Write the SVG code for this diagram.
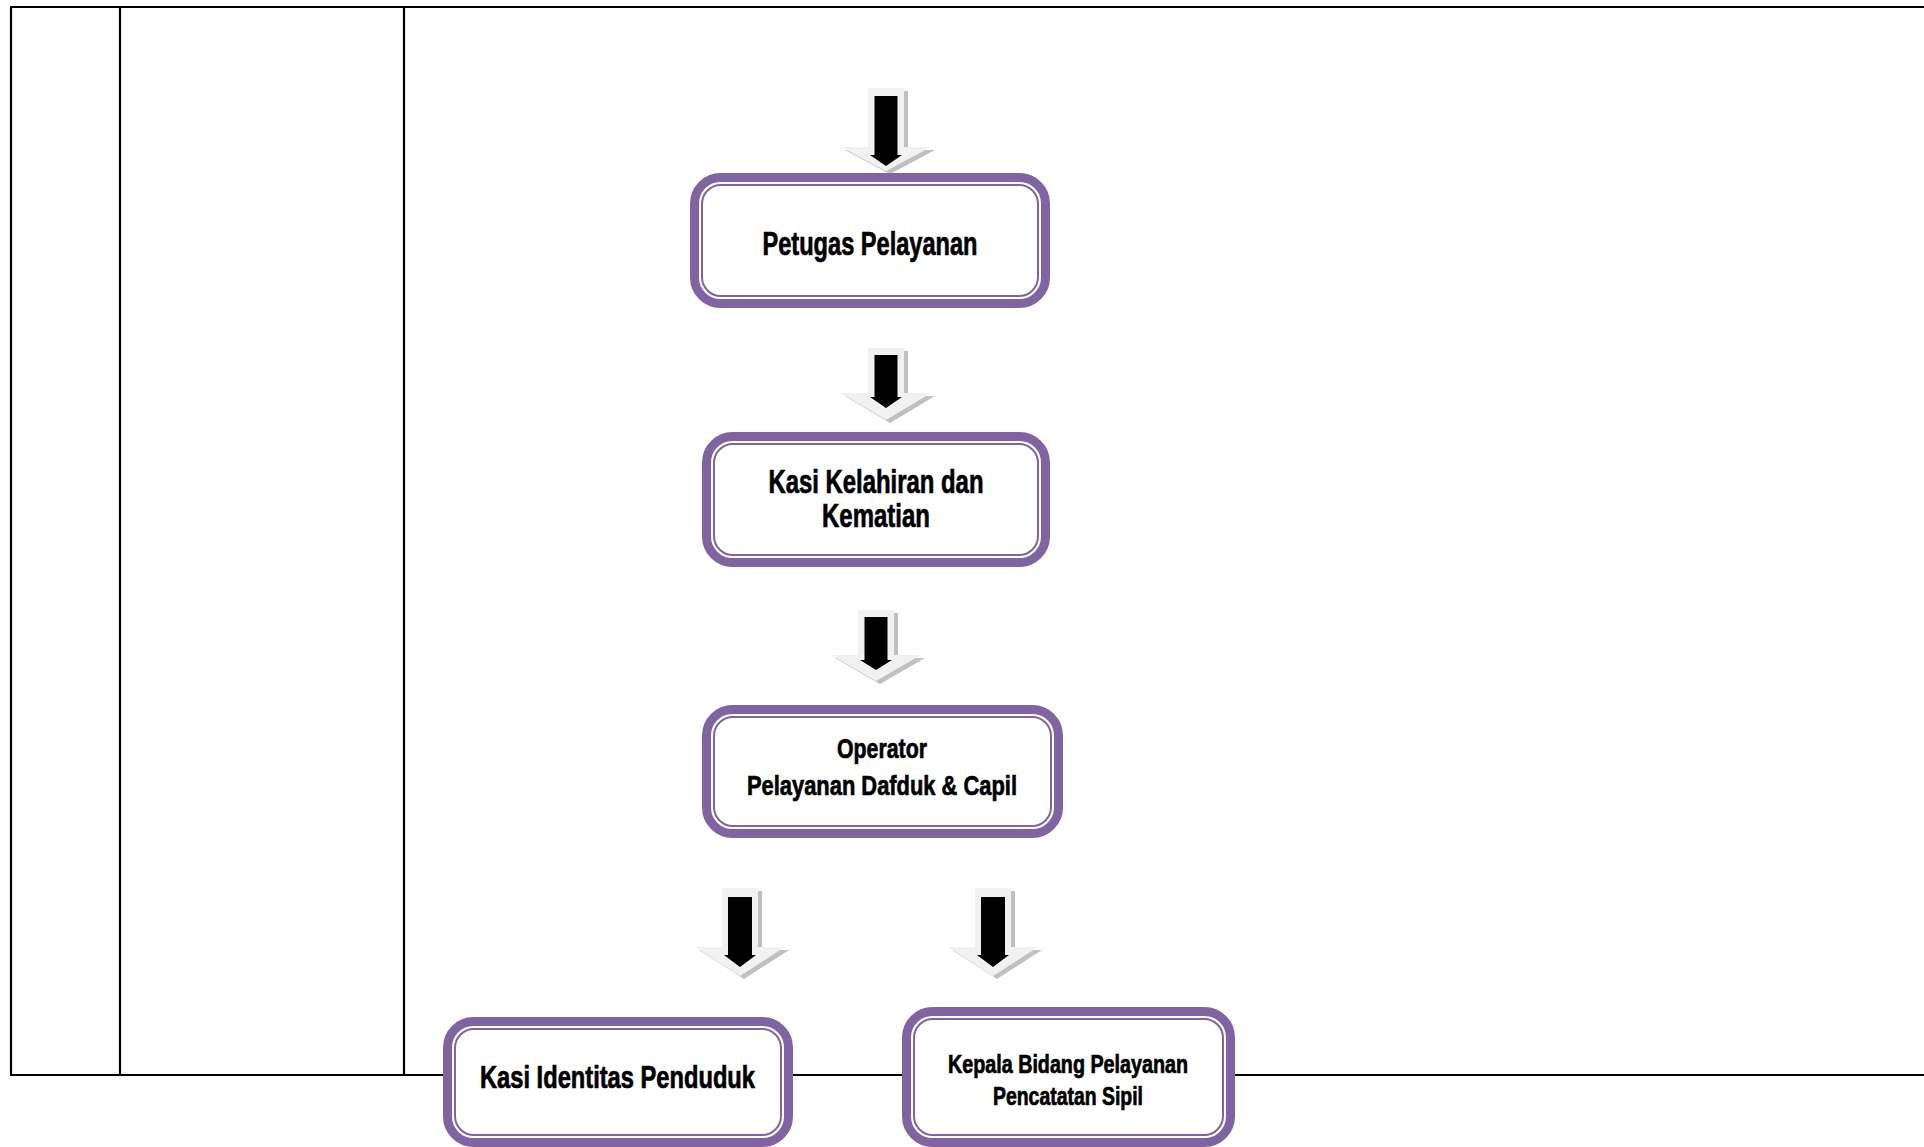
<svg xmlns="http://www.w3.org/2000/svg" width="1924" height="1147" viewBox="0 0 1924 1147">
<style>
.tbl{stroke:#000;stroke-width:2.2;fill:none}
.outer{fill:#fff;stroke:#8064a2;stroke-width:9}
.inner{fill:none;stroke:#8064a2;stroke-width:2}
.lbl{font-family:"Liberation Sans Narrow","Liberation Sans",Arial,sans-serif;font-weight:bold;fill:#000;stroke:#000;stroke-width:0.7;text-anchor:middle}
.ash{fill:#c0c0c0}
.alt{fill:#f1f1f1}
.ablk{fill:#000}
</style>
<rect width="1924" height="1147" fill="#fff"/>
<g id="table">
<line class="tbl" x1="10" y1="7" x2="1924" y2="7"/>
<line class="tbl" x1="10" y1="1075" x2="1924" y2="1075"/>
<line class="tbl" x1="11" y1="7" x2="11" y2="1075"/>
<line class="tbl" x1="120" y1="7" x2="120" y2="1075"/>
<line class="tbl" x1="404" y1="7" x2="404" y2="1075"/>
</g>
<g id="connectors">
<g id="arrow1">
<path class="ash" transform="translate(4,3)" d="M868,88 H904 V147 H931 L886,171 L841,147 H868 Z"/>
<path class="alt" d="M868,88 H904 V147 H931 L886,171 L841,147 H868 Z"/>
<path class="ablk" d="M874.5,96 H897.5 V155 H902 L886,166 L870,155 H874.5 Z"/>
</g>
<g id="arrow2">
<path class="ash" transform="translate(4,3)" d="M868,348 H904 V393 H931 L886,420 L841,393 H868 Z"/>
<path class="alt" d="M868,348 H904 V393 H931 L886,420 L841,393 H868 Z"/>
<path class="ablk" d="M874.5,355 H897.5 V397 H902 L886,408 L870,397 H874.5 Z"/>
</g>
<g id="arrow3">
<path class="ash" transform="translate(4,3)" d="M858,610 H894 V655 H921 L876,681 L831,655 H858 Z"/>
<path class="alt" d="M858,610 H894 V655 H921 L876,681 L831,655 H858 Z"/>
<path class="ablk" d="M864.5,617 H887.5 V660 H892 L876,670 L860,660 H864.5 Z"/>
</g>
<g id="arrow4">
<path class="ash" transform="translate(4,3)" d="M722,888 H758 V947 H785 L740,976 L695,947 H722 Z"/>
<path class="alt" d="M722,888 H758 V947 H785 L740,976 L695,947 H722 Z"/>
<path class="ablk" d="M728,897 H752 V955 H756 L740,967 L724,955 H728 Z"/>
</g>
<g id="arrow5">
<path class="ash" transform="translate(4,3)" d="M975,888 H1011 V947 H1038 L993,976 L948,947 H975 Z"/>
<path class="alt" d="M975,888 H1011 V947 H1038 L993,976 L948,947 H975 Z"/>
<path class="ablk" d="M981,897 H1005 V955 H1009 L993,967 L977,955 H981 Z"/>
</g>
</g>
<g id="node-petugas">
<rect class="outer" x="694.5" y="177.5" width="351" height="126" rx="26"/>
<rect class="inner" x="702" y="185" width="336" height="111" rx="19"/>
<text class="lbl" x="870" y="255" font-size="33" textLength="215" lengthAdjust="spacingAndGlyphs">Petugas Pelayanan</text>
</g>
<g id="node-kasi-kelahiran">
<rect class="outer" x="706.5" y="436.5" width="339" height="126" rx="26"/>
<rect class="inner" x="714" y="444" width="324" height="111" rx="19"/>
<text class="lbl" x="876" y="493" font-size="33" textLength="215" lengthAdjust="spacingAndGlyphs">Kasi Kelahiran dan</text>
<text class="lbl" x="876" y="527" font-size="33" textLength="108" lengthAdjust="spacingAndGlyphs">Kematian</text>
</g>
<g id="node-operator">
<rect class="outer" x="706.5" y="709.5" width="352" height="124" rx="26"/>
<rect class="inner" x="714" y="717" width="337" height="109" rx="19"/>
<text class="lbl" x="882" y="758" font-size="28" textLength="90" lengthAdjust="spacingAndGlyphs">Operator</text>
<text class="lbl" x="882" y="795" font-size="28" textLength="270" lengthAdjust="spacingAndGlyphs">Pelayanan Dafduk &amp; Capil</text>
</g>
<g id="node-kasi-identitas">
<rect class="outer" x="447.5" y="1021.5" width="341" height="121" rx="26"/>
<rect class="inner" x="455" y="1029" width="326" height="106" rx="19"/>
<text class="lbl" x="617.5" y="1088" font-size="31" textLength="275" lengthAdjust="spacingAndGlyphs">Kasi Identitas Penduduk</text>
</g>
<g id="node-kabid">
<rect class="outer" x="906.5" y="1011.5" width="324" height="131" rx="26"/>
<rect class="inner" x="914" y="1019" width="309" height="116" rx="19"/>
<text class="lbl" x="1068" y="1073" font-size="25" textLength="240" lengthAdjust="spacingAndGlyphs">Kepala Bidang Pelayanan</text>
<text class="lbl" x="1068" y="1105" font-size="25" textLength="150" lengthAdjust="spacingAndGlyphs">Pencatatan Sipil</text>
</g>
</svg>
